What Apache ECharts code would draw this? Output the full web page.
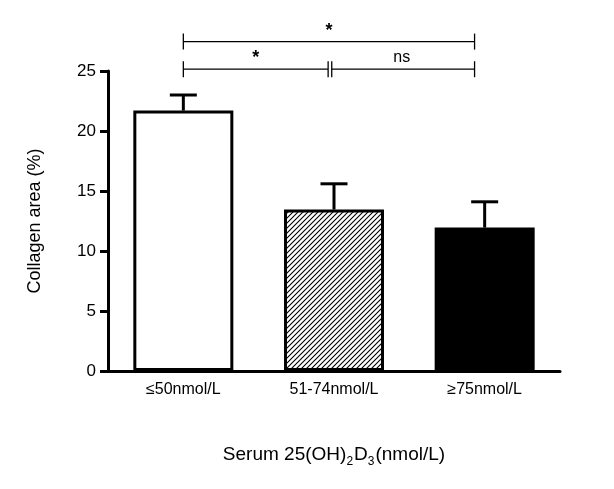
<!DOCTYPE html>
<html><head><meta charset="utf-8">
<script src="https://cdn.jsdelivr.net/npm/echarts@6/dist/echarts.min.js"></script>
<style>html,body{margin:0;padding:0;background:#fff}#c{width:614px;height:489px}</style>
</head><body><div id="c"></div>
<script>
const categories = ['≤50nmol/L', '51-74nmol/L', '≥75nmol/L'];
const means = [21.7, 13.45, 11.95];
const upperErr = [23.0, 15.6, 14.1];
const yTicks = [0, 5, 10, 15, 20, 25];
// brackets: [x1, x2, y] in category-index units
const brackets = [[0, 1.933, 27.45], [0, 0.961, 25.15], [0.985, 1.933, 25.15]];
const bracketLabels = [['*', 0.967, 27.45], ['*', 0.48, 25.15], ['ns', 1.45, 25.15]];

const FONT = 'Liberation Sans, Arial, sans-serif';

function hatch() {
  const c = document.createElement('canvas');
  c.width = 5; c.height = 5;
  const g = c.getContext('2d');
  g.fillStyle = '#fff'; g.fillRect(0, 0, 5, 5);
  g.strokeStyle = '#000'; g.lineWidth = 1.1;
  g.beginPath();
  g.moveTo(-1, 6); g.lineTo(6, -1);
  g.moveTo(-1, 1); g.lineTo(1, -1);
  g.moveTo(4, 6); g.lineTo(6, 4);
  g.stroke();
  return c;
}
const fills = ['#fff', { image: hatch(), repeat: 'repeat' }, '#000'];

const chart = echarts.init(document.getElementById('c'), null, { renderer: 'canvas' });
chart.setOption({
  animation: false,
  backgroundColor: '#fff',
  grid: { left: 108, right: 54, top: 71, bottom: 118, containLabel: false },
  xAxis: [{
    type: 'category', data: categories,
    axisLine: { lineStyle: { color: '#000', width: 3 } },
    axisTick: { alignWithLabel: true, length: 8, lineStyle: { color: '#000', width: 3 } },
    axisLabel: { color: '#000', fontSize: 16, fontFamily: FONT, margin: 11 },
    name: '{n|Serum 25(OH)}{s|2}{n|D}{s|3}{n|(nmol/L)}',
    nameLocation: 'middle', nameGap: 74,
    nameTextStyle: {
      rich: {
        n: { fontSize: 19, fontFamily: FONT, color: '#000', verticalAlign: 'bottom' },
        s: { fontSize: 12, fontFamily: FONT, color: '#000', verticalAlign: 'bottom', padding: [0, 1, -4, 0] }
      }
    }
  }, {
    type: 'value', min: -0.5, max: 2.5, show: false
  }],
  yAxis: {
    type: 'value', min: 0, max: 25, interval: 5,
    axisLine: { show: true, onZero: false, lineStyle: { color: '#000', width: 3 } },
    axisTick: { show: true, length: 8, lineStyle: { color: '#000', width: 3 } },
    axisLabel: { color: '#000', fontSize: 17, fontFamily: FONT, margin: 12,
      formatter: v => yTicks.includes(v) ? String(v) : '' },
    splitLine: { show: false },
    name: 'Collagen area (%)', nameLocation: 'middle', nameGap: 64,
    nameTextStyle: { color: '#000', fontSize: 18, fontFamily: FONT }
  },
  series: [{
    type: 'bar', xAxisIndex: 0, barWidth: 100, z: 2,
    data: means.map((v, i) => ({ value: v, itemStyle: { color: fills[i], borderColor: '#000', borderWidth: 3 } }))
  }, {
    type: 'custom', xAxisIndex: 0, z: 1,
    data: means.map((m, i) => [i, m, upperErr[i]]),
    renderItem: (params, api) => {
      const p0 = api.coord([api.value(0), api.value(1)]);
      const p1 = api.coord([api.value(0), api.value(2)]);
      return { type: 'group', children: [
        { type: 'line', shape: { x1: p0[0], y1: p0[1], x2: p1[0], y2: p1[1] }, style: { stroke: '#000', lineWidth: 3 } },
        { type: 'line', shape: { x1: p1[0] - 13.5, y1: p1[1], x2: p1[0] + 13.5, y2: p1[1] }, style: { stroke: '#000', lineWidth: 3 } }
      ] };
    }
  }, {
    type: 'custom', xAxisIndex: 1, clip: false, z: 3,
    data: brackets,
    renderItem: (params, api) => {
      const a = api.coord([api.value(0), api.value(2)]);
      const b = api.coord([api.value(1), api.value(2)]);
      const st = { stroke: '#000', lineWidth: 1.3 };
      return { type: 'group', children: [
        { type: 'line', shape: { x1: a[0], y1: a[1], x2: b[0], y2: b[1] }, style: st },
        { type: 'line', shape: { x1: a[0], y1: a[1] - 8, x2: a[0], y2: a[1] + 8 }, style: st },
        { type: 'line', shape: { x1: b[0], y1: b[1] - 8, x2: b[0], y2: b[1] + 8 }, style: st }
      ] };
    }
  }, {
    type: 'custom', xAxisIndex: 1, clip: false, z: 3,
    data: bracketLabels.map(d => [d[1], d[2], d[0]]),
    renderItem: (params, api) => {
      const p = api.coord([api.value(0), api.value(1)]);
      const t = bracketLabels[params.dataIndex][0];
      return { type: 'text', x: p[0], y: p[1] - (t === '*' ? 2 : 4),
        style: { text: t, fill: '#000', font: (t === '*' ? 'bold 18px ' : '16px ') + FONT,
          align: 'center', verticalAlign: 'bottom' } };
    }
  }]
});
</script></body></html>
